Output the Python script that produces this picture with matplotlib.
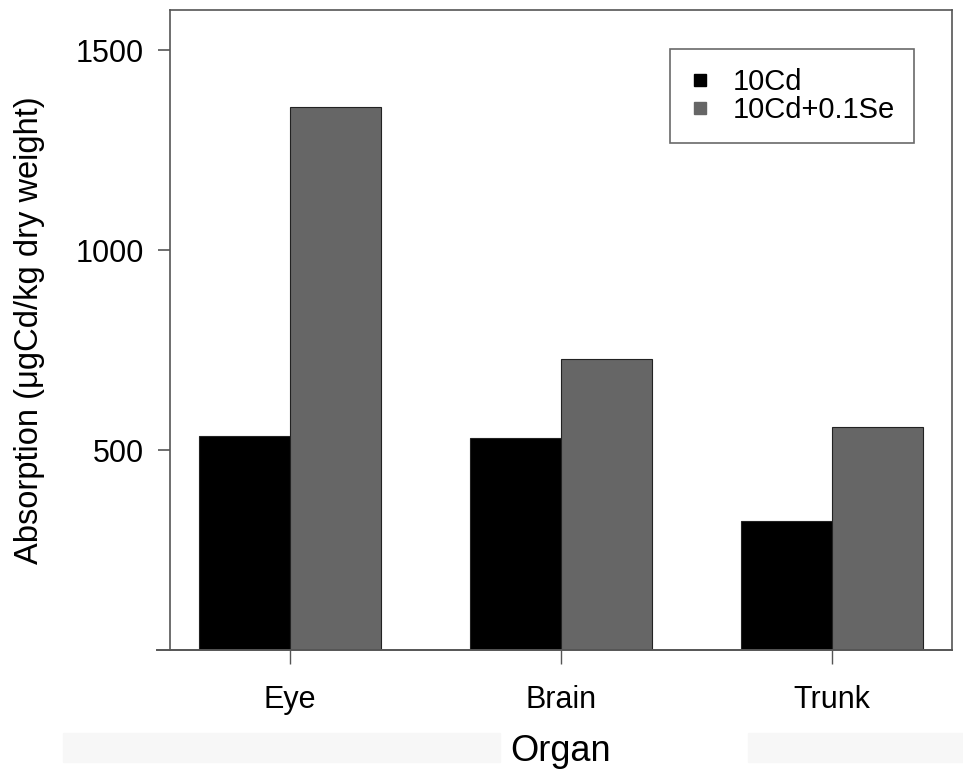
import matplotlib
matplotlib.use("Agg")
import matplotlib.pyplot as plt
import numpy as np
from matplotlib.lines import Line2D
from matplotlib.patches import Rectangle

organs = ["Eye", "Brain", "Trunk"]
cd_only = [535, 530, 322]
cd_se = [1357, 727, 557]
series_names = ["10Cd", "10Cd+0.1Se"]
series_colors = ["#000000", "#666666"]
y_ticks = [500, 1000, 1500]

plt.rcParams["font.family"] = ["Liberation Sans", "DejaVu Sans"]

fig = plt.figure(figsize=(9.63, 7.73), dpi=100)
ax = fig.add_axes([0.1765, 0.1591, 0.8121, 0.8279])

# faint bands behind the x label (scan artefact in the source)
for x0, x1 in [(63, 500), (748, 963)]:
    fig.patches.append(Rectangle((x0 / 963, 1 - 762 / 773), (x1 - x0) / 963, 29 / 773,
                                 transform=fig.transFigure, color="#f7f7f7", zorder=0))

x = np.arange(len(organs))
width = 0.336
ax.bar(x - width / 2, cd_only, width, color=series_colors[0], edgecolor="#222222", linewidth=0.8)
ax.bar(x + width / 2, cd_se, width, color=series_colors[1], edgecolor="#222222", linewidth=0.8)

ax.set_xlim(-0.443, 2.443)
ax.set_ylim(0, 1600)
ax.set_xticks(x)
ax.set_xticklabels(organs)
ax.set_yticks(y_ticks)

edge = "#555555"
for name in ["left", "top", "right"]:
    ax.spines[name].set_color(edge)
    ax.spines[name].set_linewidth(1.2)
ax.spines["bottom"].set_visible(False)
ax.plot([-0.017, 1], [0, 0], transform=ax.transAxes, color=edge, linewidth=1.4, clip_on=False)

ax.tick_params(axis="y", length=9, width=1.2, color=edge, pad=10, labelsize=22)
ax.tick_params(axis="x", length=10, width=1, color=edge, pad=15, labelsize=22)

ax.set_ylabel("Absorption (μgCd/kg dry weight)", fontsize=23.5, labelpad=22)
ax.set_xlabel("Organ", fontsize=26, labelpad=14)

handles = [Line2D([], [], marker="s", linestyle="none", markersize=9, color=c) for c in series_colors]
leg = ax.legend(handles, series_names, loc="upper right", bbox_to_anchor=(0.951, 0.939),
                fontsize=21, frameon=True, fancybox=False, handlelength=0.8,
                handletextpad=0.7, labelspacing=0.0, borderpad=0.65, borderaxespad=0)
leg.get_frame().set_edgecolor("#444444")
leg.get_frame().set_linewidth(1.2)

fig.savefig("out.png", dpi=100)
